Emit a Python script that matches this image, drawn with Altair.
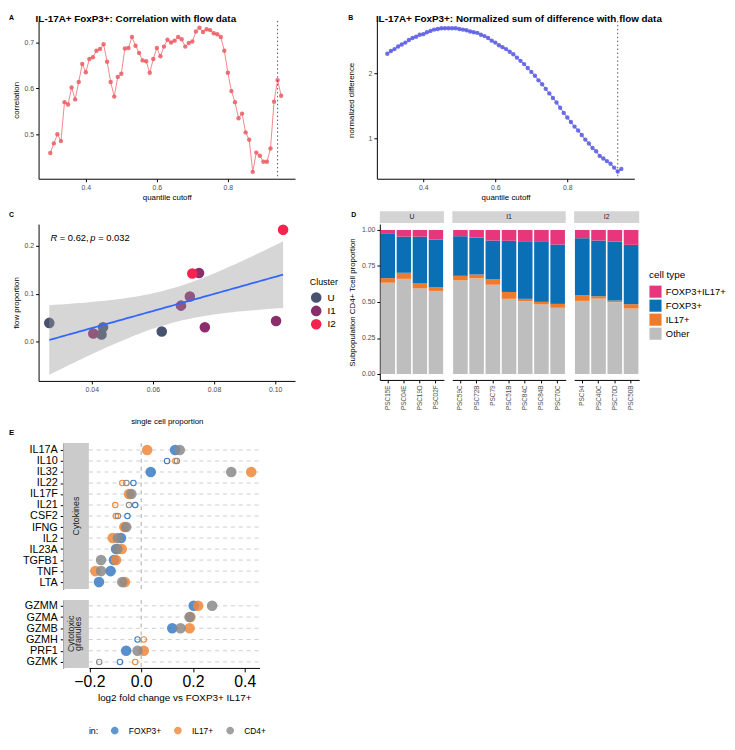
import altair as alt
import numpy as np
import pandas as pd

FONT = "Liberation Sans"

# ---------------- Panels A / B ----------------
cutoff = [0.30, 0.31, 0.32, 0.33, 0.34, 0.35, 0.36, 0.37, 0.38, 0.39,
          0.40, 0.41, 0.42, 0.43, 0.44, 0.45, 0.46, 0.47, 0.48, 0.49,
          0.50, 0.51, 0.52, 0.53, 0.54, 0.55, 0.56, 0.57, 0.58, 0.59,
          0.60, 0.61, 0.62, 0.63, 0.64, 0.65, 0.66, 0.67, 0.68, 0.69,
          0.70, 0.71, 0.72, 0.73, 0.74, 0.75, 0.76, 0.77, 0.78, 0.79,
          0.80, 0.81, 0.82, 0.83, 0.84, 0.85, 0.86, 0.87, 0.88, 0.89,
          0.90, 0.91, 0.92, 0.93, 0.94, 0.95]
correlation = [0.459, 0.480, 0.500, 0.485, 0.570, 0.565, 0.602, 0.576, 0.614, 0.653,
               0.635, 0.664, 0.668, 0.682, 0.686, 0.696, 0.658, 0.614, 0.582, 0.625,
               0.632, 0.687, 0.688, 0.712, 0.693, 0.677, 0.661, 0.659, 0.634, 0.664,
               0.688, 0.670, 0.691, 0.706, 0.700, 0.704, 0.712, 0.707, 0.691, 0.699,
               0.702, 0.724, 0.732, 0.723, 0.729, 0.727, 0.720, 0.718, 0.712, 0.682,
               0.634, 0.594, 0.570, 0.535, 0.545, 0.504, 0.488, 0.418, 0.460, 0.453,
               0.440, 0.440, 0.469, 0.571, 0.618, 0.584]
norm_diff = [2.30, 2.34, 2.37, 2.41, 2.44, 2.47, 2.51, 2.54, 2.56, 2.59,
             2.60, 2.63, 2.65, 2.67, 2.68, 2.69, 2.69, 2.69, 2.69, 2.69,
             2.68, 2.67, 2.66, 2.64, 2.63, 2.62, 2.59, 2.57, 2.54, 2.50,
             2.47, 2.43, 2.40, 2.37, 2.33, 2.29, 2.24, 2.19, 2.14, 2.08,
             2.02, 1.96, 1.89, 1.83, 1.76, 1.69, 1.62, 1.55, 1.47, 1.39,
             1.32, 1.25, 1.18, 1.12, 1.05, 0.98, 0.92, 0.85, 0.80, 0.73,
             0.69, 0.65, 0.61, 0.55, 0.49, 0.53]
best_cutoff = [0.94]

# ---------------- Panel C ----------------
sc_prop = [0.0261, 0.0437, 0.0432, 0.0629, 0.0405, 0.0692, 0.0721, 0.0751, 0.0770, 0.1003, 0.0729, 0.1026]
flow_prop = [0.039, 0.030, 0.015, 0.021, 0.017, 0.075, 0.094, 0.143, 0.030, 0.043, 0.142, 0.233]
cluster_c = ["U", "U", "U", "U", "I1", "I1", "I1", "I1", "I1", "I1", "I2", "I2"]
clusters = ["U", "I1", "I2"]
cluster_colors = ["#47536E", "#8B2D6B", "#F5244F"]

# ---------------- Panel D ----------------
samples = ["PSC15E", "PSC04E", "PSC19D", "PSC02F",
           "PSC59C", "PSC72B", "PSC79", "PSC51B", "PSC84C", "PSC84B", "PSC70C",
           "PSC94", "PSC40C", "PSC70D", "PSC50B"]
sample_cluster = ["U", "U", "U", "U",
                  "I1", "I1", "I1", "I1", "I1", "I1", "I1",
                  "I2", "I2", "I2", "I2"]
other_p = [0.634, 0.661, 0.595, 0.577, 0.650, 0.664, 0.620, 0.522, 0.506, 0.483, 0.460, 0.508, 0.524, 0.499, 0.455]
il17_p = [0.032, 0.042, 0.034, 0.025, 0.032, 0.027, 0.037, 0.048, 0.016, 0.018, 0.027, 0.039, 0.016, 0.011, 0.030]
foxp3_p = [0.307, 0.251, 0.325, 0.332, 0.275, 0.256, 0.270, 0.355, 0.400, 0.421, 0.412, 0.396, 0.387, 0.410, 0.412]
both_p = [0.027, 0.046, 0.046, 0.066, 0.043, 0.053, 0.073, 0.075, 0.078, 0.078, 0.101, 0.057, 0.073, 0.080, 0.103]
cell_types = ["FOXP3+IL17+", "FOXP3+", "IL17+", "Other"]
cell_colors = ["#E8367C", "#0A6FB5", "#EE7A2C", "#BEBEBE"]

# ---------------- Panel E ----------------
genes_cyto = ["IL17A", "IL10", "IL32", "IL22", "IL17F", "IL21", "CSF2", "IFNG", "IL2", "IL23A", "TGFB1", "TNF", "LTA"]
genes_gran = ["GZMM", "GZMA", "GZMB", "GZMH", "PRF1", "GZMK"]
groups = ["FOXP3+", "IL17+", "CD4+"]
group_colors = ["#3A7CC3", "#F0873B", "#8A8A8A"]

cyto_gene = ["IL17A", "IL10", "IL32", "IL22", "IL21", "CSF2", "IL2", "IL23A", "TGFB1", "TNF", "LTA",
             "IL17A", "IL10", "IL32", "IL22", "IL17F", "IL21", "CSF2", "IFNG", "IL2", "IL23A", "TGFB1", "TNF", "LTA",
             "IL17A", "IL10", "IL32", "IL22", "IL17F", "IL21", "CSF2", "IFNG", "IL2", "IL23A", "TGFB1", "TNF", "LTA"]
cyto_group = ["FOXP3+"] * 11 + ["IL17+"] * 13 + ["CD4+"] * 13
cyto_lfc = [0.131, 0.100, 0.037, -0.030, -0.023, -0.053, -0.078, -0.097, -0.105, -0.118, -0.163,
            0.023, 0.132, 0.425, -0.073, -0.047, -0.100, -0.098, -0.065, -0.110, -0.075, -0.097, -0.177, -0.063,
            0.149, 0.138, 0.348, -0.057, -0.038, -0.047, -0.090, -0.058, -0.090, -0.092, -0.155, -0.155, -0.073]
cyto_sig = [1, 0, 1, 0, 0, 0, 1, 1, 1, 1, 1,
            1, 0, 1, 0, 1, 0, 0, 1, 1, 1, 1, 1, 1,
            1, 0, 1, 0, 1, 0, 0, 1, 1, 1, 1, 1, 1]

gran_gene = ["GZMM", "GZMB", "GZMH", "PRF1", "GZMK",
             "GZMM", "GZMA", "GZMB", "GZMH", "PRF1", "GZMK",
             "GZMM", "GZMA", "GZMB", "PRF1", "GZMK"]
gran_group = ["FOXP3+"] * 5 + ["IL17+"] * 6 + ["CD4+"] * 5
gran_lfc = [0.203, 0.120, -0.014, -0.058, -0.082,
            0.220, 0.190, 0.187, 0.010, 0.010, -0.023,
            0.274, 0.187, 0.152, -0.014, -0.162]
gran_sig = [1, 1, 0, 1, 0,
            1, 1, 1, 0, 1, 0,
            1, 1, 1, 1, 0]


# ---------------- helpers ----------------
def txt(text, x, y, size, weight="normal", align="left", baseline="top", angle=0,
        color="black", style="normal", opacity=1.0):
    return alt.Chart(pd.DataFrame({"label": [text]})).mark_text(
        align=align, baseline=baseline, fontSize=size, fontWeight=weight, angle=angle,
        color=color, fontStyle=style, font=FONT, opacity=opacity
    ).encode(x=alt.value(x), y=alt.value(y), text="label:N")


# ---------------- Panel A ----------------
dfA = pd.DataFrame({"cutoff": cutoff, "corr": correlation})
xA = alt.X("cutoff:Q", scale=alt.Scale(domain=[0.267, 0.989], nice=False, zero=False),
           axis=alt.Axis(values=[0.4, 0.6, 0.8], format=".1f", title="quantile cutoff", titlePadding=3))
yA = alt.Y("corr:Q", scale=alt.Scale(domain=[0.403, 0.747], nice=False, zero=False),
           axis=alt.Axis(values=[0.5, 0.6, 0.7], format=".1f", title="correlation", titlePadding=4))
lineA = alt.Chart(dfA).mark_line(color="#F3868B", strokeWidth=1).encode(xA, yA)
ptsA = alt.Chart(dfA).mark_circle(color="#EC5A63", size=20, opacity=0.85).encode(xA, yA)
vA = alt.Chart(pd.DataFrame({"cutoff": best_cutoff})).mark_rule(
    color="#555555", strokeDash=[1.5, 2.5], strokeWidth=1).encode(x="cutoff:Q")
chartA = alt.layer(
    lineA, ptsA, vA,
    txt("A", -30, -7, 7, weight="bold"),
    txt("IL-17A+ FoxP3+: Correlation with flow data", -3, -7, 10, weight="bold"),
).properties(width=260, height=160)

# ---------------- Panel B ----------------
dfB = pd.DataFrame({"cutoff": cutoff, "nd": norm_diff})
xB = alt.X("cutoff:Q", scale=alt.Scale(domain=[0.271, 0.986], nice=False, zero=False),
           axis=alt.Axis(values=[0.4, 0.6, 0.8], format=".1f", title="quantile cutoff", titlePadding=3))
yB = alt.Y("nd:Q", scale=alt.Scale(domain=[0.379, 2.803], nice=False, zero=False),
           axis=alt.Axis(values=[1, 2], format="d", title="normalized difference", titlePadding=13))
lineB = alt.Chart(dfB).mark_line(color="#7070F0", strokeWidth=1).encode(xB, yB)
ptsB = alt.Chart(dfB).mark_circle(color="#5858E6", size=20, opacity=0.85).encode(xB, yB)
vB = alt.Chart(pd.DataFrame({"cutoff": best_cutoff})).mark_rule(
    color="#555555", strokeDash=[1.5, 2.5], strokeWidth=1).encode(x="cutoff:Q")
chartB = alt.layer(
    lineB, ptsB, vB,
    txt("B", -29, -7, 7, weight="bold"),
    txt("IL-17A+ FoxP3+: Normalized sum of difference with flow data", -1, -7, 10, weight="bold"),
).properties(width=261, height=160)

# ---------------- Panel C ----------------
dfC = pd.DataFrame({"sc": sc_prop, "flow": flow_prop, "Cluster": cluster_c})
xv = np.array(sc_prop)
yv = np.array(flow_prop)
n = len(xv)
xm, ym = xv.mean(), yv.mean()
sxx = ((xv - xm) ** 2).sum()
slope = ((xv - xm) * (yv - ym)).sum() / sxx
icpt = ym - slope * xm
resid = yv - (icpt + slope * xv)
s_err = np.sqrt((resid ** 2).sum() / (n - 2))
t975 = 2.228  # t quantile, df = 10
grid_x = np.linspace(xv.min(), xv.max(), 80)
fit = icpt + slope * grid_x
half = t975 * s_err * np.sqrt(1.0 / n + (grid_x - xm) ** 2 / sxx)
dfFit = pd.DataFrame({"sc": grid_x, "fit": fit, "lo": fit - half, "hi": fit + half})

scC = alt.Scale(domain=[0.0226, 0.1065], nice=False, zero=False)
fyC = alt.Scale(domain=[-0.082, 0.245], nice=False, zero=False)
axXC = alt.Axis(values=[0.04, 0.06, 0.08, 0.10], format=".2f", title="single cell proportion", titlePadding=25)
axYC = alt.Axis(values=[0.0, 0.1, 0.2], format=".1f", title="flow proportion", titlePadding=4)

ptsC = alt.Chart(dfC).mark_circle(size=115, opacity=1).encode(
    x=alt.X("sc:Q", scale=scC, axis=axXC),
    y=alt.Y("flow:Q", scale=fyC, axis=axYC),
    color=alt.Color("Cluster:N", scale=alt.Scale(domain=clusters, range=cluster_colors),
                    legend=alt.Legend(title="Cluster", orient="none", legendX=275, legendY=55,
                                      titleFontSize=9, titleFontWeight="normal", titleColor="black",
                                      labelFontSize=10, labelColor="black", symbolSize=115,
                                      symbolType="circle", symbolOpacity=1, rowPadding=1.5,
                                      padding=0, titlePadding=4, labelOffset=5)),
)
bandC = alt.Chart(dfFit).mark_area(color="#999999", opacity=0.4).encode(
    x=alt.X("sc:Q", scale=scC, axis=axXC),
    y=alt.Y("lo:Q", scale=fyC, axis=axYC),
    y2="hi:Q",
)
lineC = alt.Chart(dfFit).mark_line(color="#3366FF", strokeWidth=1.8).encode(
    x=alt.X("sc:Q", scale=scC, axis=axXC),
    y=alt.Y("fit:Q", scale=fyC, axis=axYC),
)
chartC = alt.layer(
    ptsC, bandC, lineC,
    txt("R", 12, 14, 9.5, style="italic", baseline="middle"),
    txt("= 0.62,", 21.5, 14, 9.5, baseline="middle"),
    txt("p", 52.5, 14, 9.5, style="italic", baseline="middle"),
    txt("= 0.032", 60.5, 14, 9.5, baseline="middle"),
    txt("C", -30, -13, 7, weight="bold"),
).properties(width=260, height=159)

# ---------------- Panel D ----------------
rows = []
for i, s in enumerate(samples):
    for ct, vals, o in (("Other", other_p, 0), ("IL17+", il17_p, 1), ("FOXP3+", foxp3_p, 2), ("FOXP3+IL17+", both_p, 3)):
        rows.append({"sample": s, "cluster": sample_cluster[i], "celltype": ct, "prop": vals[i], "ord": o})
dfD = pd.DataFrame(rows)


def d_panel(cl, width, first, last):
    sub = dfD[dfD["cluster"] == cl]
    order = [s for s, c in zip(samples, sample_cluster) if c == cl]
    if first:
        y_axis = alt.Axis(values=[0, 0.25, 0.5, 0.75, 1.0], format=".2f",
                          title="Subpopulation CD4+ Tcell proportion", titlePadding=5)
    else:
        y_axis = None
    if last:
        legend = alt.Legend(title="cell type", orient="none", legendX=76, legendY=47,
                            titleFontSize=10, titleFontWeight="normal", titleColor="black",
                            labelFontSize=9.5, labelColor="black", symbolType="square",
                            symbolSize=150, symbolStrokeWidth=0, rowPadding=1.2, padding=0,
                            titlePadding=5, labelOffset=4)
    else:
        legend = None
    bars = alt.Chart(sub).mark_bar().encode(
        x=alt.X("sample:N", sort=order, scale=alt.Scale(paddingInner=0.1, paddingOuter=0.05),
                axis=alt.Axis(title=None, labelAngle=270, labelFontSize=6.5, labelPadding=2)),
        y=alt.Y("prop:Q", stack="zero", scale=alt.Scale(domain=[-0.041, 1.041], nice=False, zero=False),
                axis=y_axis),
        color=alt.Color("celltype:N", scale=alt.Scale(domain=cell_types, range=cell_colors), legend=legend),
        order=alt.Order("ord:Q", sort="ascending"),
    )
    strip = alt.Chart(pd.DataFrame({"s": [cl]})).mark_rect(color="#D4D4D4").encode(
        x=alt.value(0), x2=alt.value(width), y=alt.value(-13), y2=alt.value(-1))
    layers = [bars, strip, txt(cl, width / 2, -7, 7, align="center", baseline="middle", color="#1A1A1A")]
    if first:
        layers.append(txt("D", -29, -13, 7, weight="bold"))
    return alt.layer(*layers).properties(width=width, height=158)


chartD = alt.hconcat(
    d_panel("U", 65, True, False),
    d_panel("I1", 115, False, False),
    d_panel("I2", 66, False, True),
    spacing=6.5,
).resolve_scale(color="independent")

# ---------------- Panel E ----------------
E_W = 224      # view spans from the axis column of panels A/C to the right end of E
E_X0 = 51      # left end of the data range inside the view


def e_panel(genes, gene_vals, group_vals, lfc_vals, sig_vals, height, pad, bottom):
    df = pd.DataFrame({"gene": gene_vals, "group": group_vals, "lfc": lfc_vals, "sig": sig_vals})
    xscaleE = alt.Scale(domain=[-0.202, 0.457], range=[E_X0, E_W], nice=False, zero=False)
    yE = alt.Y("gene:N", sort=genes, scale=alt.Scale(type="point", padding=pad),
               axis=alt.Axis(title=None, offset=-25, labelFontSize=11, labelColor="black",
                             tickSize=3, labelPadding=3))
    if bottom:
        x_axis = alt.Axis(values=[-0.2, 0.0, 0.2, 0.4], format=".1f", labelFontSize=16,
                          labelColor="black", tickSize=4, labelPadding=2,
                          title="log2 fold change vs FOXP3+ IL17+", titleFontSize=10, titlePadding=3)
        legend = alt.Legend(title="in:", orient="none", direction="horizontal", titleOrient="left",
                            legendX=E_X0, legendY=128, symbolType="circle", symbolSize=40,
                            symbolOpacity=0.8, labelFontSize=8.5, titleFontSize=9,
                            titleFontWeight="normal", titleColor="black", labelColor="black",
                            labelOffset=10, columnPadding=10, titlePadding=12, padding=0)
    else:
        x_axis = None
        legend = None
    xE = alt.X("lfc:Q", scale=xscaleE, axis=x_axis)
    colE = alt.Color("group:N", scale=alt.Scale(domain=groups, range=group_colors), legend=legend)
    strip = alt.Chart(pd.DataFrame({"s": ["strip"]})).mark_rect(color="#CBCBCB").encode(
        x=alt.value(25), x2=alt.value(E_X0), y=alt.value(0), y2=alt.value(height))
    grid = alt.Chart(pd.DataFrame({"gene": genes})).mark_rule(
        color="#C8C8C8", strokeDash=[4, 4], strokeWidth=0.9).encode(
        y=yE, x=alt.value(E_X0), x2=alt.value(E_W))
    zero = alt.Chart(pd.DataFrame({"lfc": [0.0]})).mark_rule(
        color="#A8A8A8", strokeDash=[4, 4], strokeWidth=1).encode(x=xE)
    filled = alt.Chart(df[df["sig"] == 1]).mark_circle(size=115, opacity=0.85).encode(x=xE, y=yE, color=colE)
    hollow = alt.Chart(df[df["sig"] == 0]).mark_point(filled=False, size=30, strokeWidth=1.1, opacity=1).encode(
        x=xE, y=yE, color=colE)
    layers = [strip, grid, zero, filled, hollow]
    if bottom:
        layers += [txt("Cytotoxic", 32.7, height / 2, 9, align="center", baseline="middle", angle=270, color="#1A1A1A"),
                   txt("granules", 40.5, height / 2, 9, align="center", baseline="middle", angle=270, color="#1A1A1A")]
    else:
        layers += [txt("Cytokines", 38, height / 2, 9, align="center", baseline="middle", angle=270, color="#1A1A1A"),
                   txt("E", -30, -14, 8, weight="bold")]
    return alt.layer(*layers).properties(width=E_W, height=height)


chartE = alt.vconcat(
    e_panel(genes_cyto, cyto_gene, cyto_group, cyto_lfc, cyto_sig, 148, 0.63, False),
    e_panel(genes_gran, gran_gene, gran_group, gran_lfc, gran_sig, 69, 0.53, True),
    spacing=9,
).resolve_scale(color="independent")

row1 = alt.hconcat(chartA, chartB, spacing=51).resolve_scale(color="independent")
row2 = alt.hconcat(chartC, chartD, spacing=8).resolve_scale(color="independent")
top_rows = alt.vconcat(row1, row2, spacing=8).resolve_scale(color="independent")

chart = alt.vconcat(top_rows, chartE, spacing=2).resolve_scale(
    color="independent"
).properties(padding=0).configure(font=FONT).configure_view(
    stroke="transparent"
).configure_axis(
    domainColor="black", tickColor="black", labelColor="#4D4D4D", labelFontSize=7,
    titleFontSize=8, titleColor="black", titleFontWeight="normal", tickSize=3,
    labelPadding=2, grid=False, labelFont=FONT, titleFont=FONT, labelFlush=False,
    domainWidth=1, tickWidth=1
).configure_legend(labelFont=FONT, titleFont=FONT)

chart.save("out.html", embed_options={"renderer": "svg", "actions": False})
